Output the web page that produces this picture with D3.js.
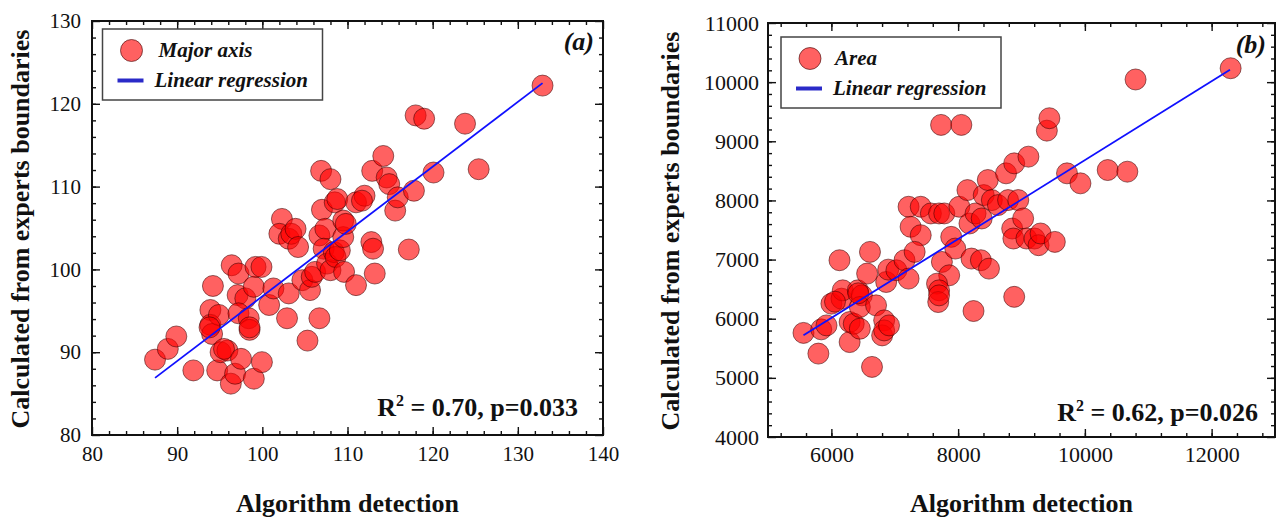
<!DOCTYPE html>
<html>
<head>
<meta charset="utf-8">
<script src="https://cdn.jsdelivr.net/npm/d3@7"></script>
<style>
  body { margin: 0; background: #fff; }
  svg { display: block; }
  text { font-family: "Liberation Serif", "Times New Roman", serif; fill: #111; }
</style>
</head>
<body>
<svg id="chart" width="1280" height="521"></svg>
<script>
// panel (a) : major axis
var majorX = [87.4, 88.9, 89.9, 91.9, 93.9, 94.2, 93.9, 94.1, 94.9, 94.7, 95.1, 95.9, 95.5, 96.3, 96.8, 97.5,
  96.4, 97.2, 97.1, 98.0, 97.2, 98.4, 98.5, 99.0, 99.0, 99.95, 99.2, 99.9, 100.8, 101.3, 102.9, 103.1,
  102.3, 102.0, 103.1, 103.4, 103.9, 104.2, 104.7, 105.3, 105.6, 105.8, 106.2, 106.7, 106.9, 108.0,
  107.0, 106.7, 107.4, 107.2, 107.6, 108.0, 108.4, 108.6, 109.1, 108.5, 108.8, 109.5, 109.5, 109.8,
  109.6, 111.0, 111.0, 112.0, 111.7, 112.9, 114.2, 114.6, 114.9, 115.6, 115.9, 112.8, 113.0, 113.2,
  117.2, 117.8, 118.0, 119.0, 120.1, 123.8, 125.4, 132.9, 93.8, 98.5];
var majorY = [89.1, 90.4, 91.9, 87.8, 95.1, 98.0, 93.3, 92.2, 94.5, 87.8, 90.0, 90.2, 90.4, 86.2, 87.4, 89.2,
  100.5, 99.5, 96.9, 96.5, 94.7, 94.1, 92.7, 97.9, 86.8, 88.8, 100.3, 100.3, 95.7, 97.7, 94.1, 97.1,
  106.1, 104.3, 103.7, 104.3, 104.9, 102.7, 98.7, 91.4, 97.5, 99.1, 99.7, 94.1, 111.9, 110.9,
  107.2, 104.1, 104.9, 102.5, 100.7, 99.9, 102.1, 101.5, 102.3, 108.1, 108.5, 103.9, 105.9, 105.5,
  99.7, 98.1, 108.1, 108.9, 108.3, 111.9, 113.7, 111.1, 110.3, 107.1, 108.7, 103.3, 102.5, 99.5,
  102.4, 109.5, 118.6, 118.2, 111.7, 117.6, 112.1, 122.2, 93.0, 93.0];
var fitMajorX = [87.4, 132.9];
var fitMajorY = [86.9, 122.5];

// panel (b) : area
var areaX = [5560, 5795, 5840, 5923, 6000, 6128, 6160, 6179, 6288, 6288, 6353, 6449, 6417, 6481, 6449, 6564,
  6609, 6641, 6705, 6833, 6865, 6897, 6801, 6833, 6910, 7026, 7154, 7218, 7218, 7250, 7410, 7314,
  7410, 7570, 7699, 7782, 7731, 8051, 7744, 7891, 7955, 7859, 7667, 7699, 7686, 7699, 8019, 8147,
  8179, 8211, 8243, 8275, 8372, 8359, 8404, 8468, 8487, 8532, 8628, 8756, 8788, 8853, 8872, 8885,
  8885, 8949, 9026, 9077, 9109, 9205, 9269, 9301, 9400, 9440, 9526, 9718, 9930, 10360, 10670,
  10800, 12300, 6057, 6425];
var areaY = [5760, 5410, 5820, 5887, 6254, 6989, 6339, 6480, 5944, 5605, 5915, 5831, 6480, 6395, 6198, 6763,
  7130, 5185, 6226, 5972, 6621, 6830, 5718, 5802, 5887, 6819, 6989, 6678, 7893, 7554, 7412, 7130,
  7893, 7780, 7780, 7780, 9277, 9277, 6960, 7384, 7186, 6734, 6593, 6480, 6282, 6395, 7893, 8175,
  7610, 7017, 6130, 7780, 7695, 6989, 8090, 8345, 6847, 8006, 7921, 8458, 8006, 7525, 7356, 6370,
  8627, 8006, 7695, 7356, 8740, 7356, 7243, 7441, 9180, 9390, 7299, 8458, 8289, 8514, 8486,
  10045, 10235, 6288, 6430];
var fitAreaX = [5560, 12290];
var fitAreaY = [5720, 10210];

var ticksXA = [80, 90, 100, 110, 120, 130, 140];
var ticksYA = [80, 90, 100, 110, 120, 130];
var ticksXB = [6000, 8000, 10000, 12000];
var ticksYB = [4000, 5000, 6000, 7000, 8000, 9000, 10000, 11000];

var serif = "'Liberation Serif', 'Times New Roman', serif";
var svg = d3.select("#chart");

function panel(o) {
  var g = svg.append("g");
  var x = d3.scaleLinear().domain(o.xDomain).range([o.left, o.right]);
  var y = d3.scaleLinear().domain(o.yDomain).range([o.bottom, o.top]);

  // ticks, all pointing inward
  function ticks(axis, vals, size, pos, labels) {
    var a = axis.tickValues(vals).tickSize(-size).tickPadding(labels ? o.pad : 0)
      .tickFormat(labels ? d3.format("d") : "");
    var t = g.append("g").attr("transform", pos).call(a)
      .attr("font-family", serif).attr("font-size", o.tickFont);
    t.select(".domain").remove();
    t.selectAll("line").attr("stroke", "#111").attr("stroke-width", 1.4);
    t.selectAll("text").attr("fill", "#111")
      .style("font-family", serif).style("font-size", o.tickFont + "px");
  }
  var bx = "translate(0," + o.bottom + ")", tx = "translate(0," + o.top + ")";
  var ly = "translate(" + o.left + ",0)", ry = "translate(" + o.right + ",0)";
  ticks(d3.axisBottom(x), o.xMinor, 4, bx, false);
  ticks(d3.axisBottom(x), o.xMajor, 8, bx, true);
  ticks(d3.axisTop(x), o.xMinor, 4, tx, false);
  ticks(d3.axisTop(x), o.xMajor, 8, tx, false);
  ticks(d3.axisLeft(y), o.yMinor, 4, ly, false);
  ticks(d3.axisLeft(y), o.yMajor, 8, ly, true);
  ticks(d3.axisRight(y), o.yMinor, 4, ry, false);
  ticks(d3.axisRight(y), o.yMajor, 8, ry, false);

  g.append("rect")
    .attr("x", o.left).attr("y", o.top)
    .attr("width", o.right - o.left).attr("height", o.bottom - o.top)
    .attr("fill", "none").attr("stroke", "#111").attr("stroke-width", 2);

  // points
  g.append("g").selectAll("circle")
    .data(o.xs.map(function(v, i) { return [v, o.ys[i]]; }))
    .enter().append("circle")
    .attr("cx", function(d) { return x(d[0]); })
    .attr("cy", function(d) { return y(d[1]); })
    .attr("r", 10.5)
    .attr("fill", "#ff0000").attr("fill-opacity", 0.62)
    .attr("stroke", "#3a0000").attr("stroke-opacity", 0.55).attr("stroke-width", 1);

  // regression line
  var line = d3.line().x(function(d) { return x(d[0]); }).y(function(d) { return y(d[1]); });
  g.append("path")
    .datum(o.fitX.map(function(v, i) { return [v, o.fitY[i]]; }))
    .attr("d", line)
    .attr("fill", "none").attr("stroke", "#1010ff").attr("stroke-width", 1.8);

  // legend
  var lg = g.append("g").attr("transform", "translate(" + o.legX + "," + o.legY + ")");
  lg.append("rect").attr("width", 220).attr("height", 71)
    .attr("fill", "#fff").attr("stroke", "#444").attr("stroke-width", 1.5);
  lg.append("circle").attr("cx", 29).attr("cy", 21.5).attr("r", 11)
    .attr("fill", "#ff0000").attr("fill-opacity", 0.62)
    .attr("stroke", "#3a0000").attr("stroke-opacity", 0.6).attr("stroke-width", 1);
  lg.append("text").attr("x", o.legText1).attr("y", 28)
    .style("font-size", "21px").style("font-weight", "bold").style("font-style", "italic")
    .text(o.name);
  lg.append("line").attr("x1", 15).attr("x2", 41).attr("y1", 51.5).attr("y2", 51.5)
    .attr("stroke", "#2a2ac8").attr("stroke-width", 4);
  lg.append("text").attr("x", 52).attr("y", 58)
    .style("font-size", "21px").style("font-weight", "bold").style("font-style", "italic")
    .text("Linear regression");

  // panel letter
  g.append("text").attr("x", o.right - 9).attr("y", o.top + o.tagDy)
    .attr("text-anchor", "end")
    .style("font-size", "26px").style("font-weight", "bold").style("font-style", "italic")
    .text(o.tag);

  // R2 annotation
  var r2 = g.append("text").attr("x", o.right - o.r2Dx).attr("y", o.bottom - o.r2Dy)
    .attr("text-anchor", "end").style("font-size", "26px").style("font-weight", "bold");
  r2.append("tspan").text("R");
  r2.append("tspan").attr("dy", -10).style("font-size", "16px").text("2");
  r2.append("tspan").attr("dy", 10).text(" = " + o.r2);

  // axis titles
  g.append("text").attr("x", (o.left + o.right) / 2).attr("y", 512)
    .attr("text-anchor", "middle").style("font-size", "26px").style("font-weight", "bold")
    .text("Algorithm detection");
  g.append("text")
    .attr("transform", "translate(" + o.yTitleX + "," + ((o.top + o.bottom) / 2 + 1) + ") rotate(-90)")
    .attr("text-anchor", "middle").style("font-size", "26px").style("font-weight", "bold")
    .text("Calculated from experts boundaries");
}

panel({
  left: 92, right: 603, top: 21, bottom: 435, pad: 11, tickFont: 21,
  xDomain: [80, 140], yDomain: [80, 130],
  xMajor: ticksXA, yMajor: ticksYA,
  xMinor: d3.range(82, 140, 2), yMinor: d3.range(82, 130, 2),
  xs: majorX, ys: majorY, fitX: fitMajorX, fitY: fitMajorY,
  legX: 102.5, legY: 29, legText1: 56, name: "Major axis",
  tag: "(a)", tagDy: 29, r2: "0.70, p=0.033", r2Dx: 25, r2Dy: 19, yTitleX: 29
});

panel({
  left: 768, right: 1275, top: 23, bottom: 437, pad: 9, tickFont: 22,
  xDomain: [5000, 13000], yDomain: [4000, 11000],
  xMajor: ticksXB, yMajor: ticksYB,
  xMinor: d3.range(5200, 13000, 400), yMinor: d3.range(4200, 11000, 200),
  xs: areaX, ys: areaY, fitX: fitAreaX, fitY: fitAreaY,
  legX: 781, legY: 37, legText1: 54, name: "Area",
  tag: "(b)", tagDy: 30, r2: "0.62, p=0.026", r2Dx: 17, r2Dy: 16, yTitleX: 679
});
</script>
</body>
</html>
